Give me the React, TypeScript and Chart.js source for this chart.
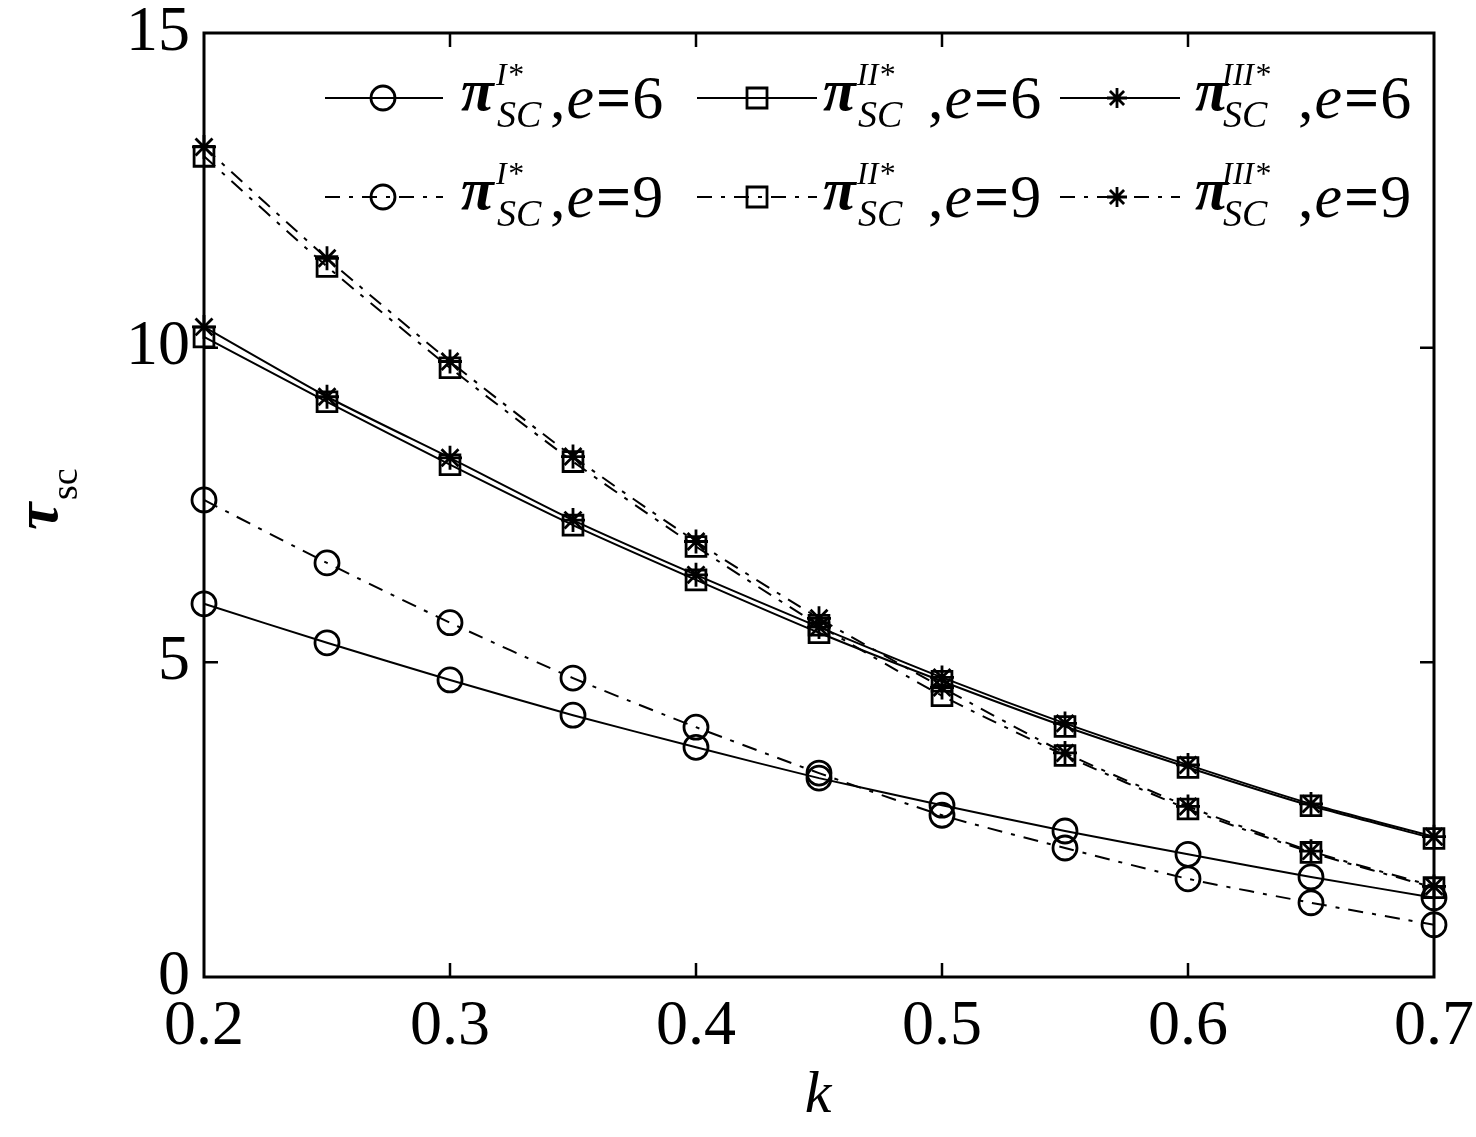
import React, { useEffect, useRef } from 'react';
import { Chart, registerables } from 'chart.js';

Chart.register(...registerables);

// ---------- data ----------
const kValues = [0.2, 0.25, 0.3, 0.35, 0.4, 0.45, 0.5, 0.55, 0.6, 0.65, 0.7];
const piI_e6 = [5.93, 5.31, 4.72, 4.16, 3.65, 3.16, 2.73, 2.32, 1.95, 1.59, 1.26];
const piII_e6 = [10.17, 9.14, 8.14, 7.18, 6.31, 5.47, 4.70, 3.98, 3.33, 2.72, 2.20];
const piIII_e6 = [10.33, 9.22, 8.25, 7.26, 6.39, 5.56, 4.76, 4.03, 3.37, 2.75, 2.23];
const piI_e9 = [7.58, 6.58, 5.63, 4.75, 3.97, 3.24, 2.57, 2.05, 1.56, 1.18, 0.83];
const piII_e9 = [13.04, 11.29, 9.68, 8.19, 6.84, 5.59, 4.47, 3.52, 2.67, 1.98, 1.42];
const piIII_e9 = [13.19, 11.42, 9.78, 8.27, 6.92, 5.70, 4.60, 3.56, 2.71, 2.00, 1.44];

const xTicks = [0.2, 0.3, 0.4, 0.5, 0.6, 0.7];
const yTicks = [0, 5, 10, 15];

const legendSup = ['I*', 'II*', 'III*'];
const legendE = ['6', '9'];
const xTitle = 'k';
const yTitleMain = 'τ';
const yTitleSub = 'sc';

// ---------- styles ----------
const SERIF = '"Liberation Serif", "DejaVu Serif", serif';
const DASHDOT = [15, 9, 4, 9];
const W = 1476;
const H = 1137;

type Style = 'circle' | 'rect' | 'star';

function makeDataset(label: string, values: number[], style: Style, dashed: boolean) {
  return {
    label,
    data: kValues.map((k, i) => ({ x: k, y: values[i] })),
    borderColor: '#000',
    borderWidth: 2,
    borderDash: dashed ? DASHDOT : [],
    pointStyle: style,
    pointRadius: style === 'rect' ? 14 : 12,
    pointHoverRadius: style === 'rect' ? 14 : 12,
    pointBorderColor: '#000',
    pointBackgroundColor: 'rgba(0,0,0,0)',
    pointBorderWidth: 2.8,
    fill: false,
    tension: 0.2,
    clip: false as any,
  };
}

function drawMarker(ctx: CanvasRenderingContext2D, style: Style, x: number, y: number) {
  ctx.save();
  ctx.setLineDash([]);
  ctx.strokeStyle = '#000';
  ctx.lineWidth = 2.8;
  ctx.beginPath();
  if (style === 'circle') {
    ctx.arc(x, y, 12, 0, Math.PI * 2);
  } else if (style === 'rect') {
    ctx.rect(x - 10, y - 10, 20, 20);
  } else {
    const r = 10;
    ctx.moveTo(x, y - r); ctx.lineTo(x, y + r);
    ctx.moveTo(x - r, y); ctx.lineTo(x + r, y);
    const d = r * Math.SQRT1_2;
    ctx.moveTo(x - d, y - d); ctx.lineTo(x + d, y + d);
    ctx.moveTo(x - d, y + d); ctx.lineTo(x + d, y - d);
  }
  ctx.stroke();
  ctx.restore();
}

const legendCols = [
  { lx0: 325, lx1: 443, mx: 383, px: 463, sx: 496, cx: 550, style: 'circle' as Style },
  { lx0: 697, lx1: 817, mx: 757, px: 825, sx: 857, cx: 928, style: 'rect' as Style },
  { lx0: 1060, lx1: 1180, mx: 1117, px: 1197, sx: 1222, cx: 1298, style: 'star' as Style },
];
const legendRows = [98, 197];

function zeroPadding(s: any) {
  s.paddingTop = 0;
  s.paddingBottom = 0;
  s.paddingLeft = 0;
  s.paddingRight = 0;
}

const framePlugin = {
  id: 'frameAndText',
  afterDraw(chart: any) {
    const ctx: CanvasRenderingContext2D = chart.ctx;
    const { left, right, top, bottom } = chart.chartArea;
    const xs = chart.scales.x;
    const ys = chart.scales.y;
    ctx.save();
    ctx.strokeStyle = '#000';
    ctx.lineWidth = 3;
    ctx.setLineDash([]);
    ctx.strokeRect(left, top, right - left, bottom - top);
    ctx.lineWidth = 2.5;
    const tl = 14;
    ctx.beginPath();
    xTicks.forEach((v) => {
      const px = xs.getPixelForValue(v);
      if (Math.abs(px - left) < 2 || Math.abs(px - right) < 2) return;
      ctx.moveTo(px, bottom); ctx.lineTo(px, bottom - tl);
      ctx.moveTo(px, top); ctx.lineTo(px, top + tl);
    });
    yTicks.forEach((v) => {
      const py = ys.getPixelForValue(v);
      if (Math.abs(py - top) < 2 || Math.abs(py - bottom) < 2) return;
      ctx.moveTo(left, py); ctx.lineTo(left + tl, py);
      ctx.moveTo(right, py); ctx.lineTo(right - tl, py);
    });
    ctx.stroke();

    // axis titles
    ctx.fillStyle = '#000';
    ctx.textAlign = 'center';
    ctx.textBaseline = 'alphabetic';
    ctx.font = `italic 60px ${SERIF}`;
    ctx.fillText(xTitle, 818, 1112);

    ctx.save();
    ctx.translate(57, 530);
    ctx.rotate(-Math.PI / 2);
    ctx.textAlign = 'left';
    ctx.font = `bold italic 62px ${SERIF}`;
    ctx.fillText(yTitleMain, 0, 0);
    ctx.font = `38px ${SERIF}`;
    ctx.fillText(yTitleSub, 30, 20);
    ctx.restore();

    // legend
    legendRows.forEach((ry, ri) => {
      legendCols.forEach((c, ci) => {
        ctx.save();
        ctx.lineWidth = 2.2;
        ctx.setLineDash(ri === 1 ? DASHDOT : []);
        ctx.beginPath();
        ctx.moveTo(c.lx0, ry);
        ctx.lineTo(c.lx1, ry);
        ctx.stroke();
        ctx.restore();
        drawMarker(ctx, c.style, c.mx, ry);

        ctx.textAlign = 'left';
        ctx.textBaseline = 'alphabetic';
        ctx.font = `bold italic 60px ${SERIF}`;
        ctx.fillText('π', c.px - 2, ry + 12);
        ctx.font = `italic 32px ${SERIF}`;
        ctx.fillText(legendSup[ci], c.sx, ry - 13);
        ctx.font = `italic 38px ${SERIF}`;
        ctx.fillText('SC', c.sx + 1, ry + 29);
        let x = c.cx;
        ctx.font = `62px ${SERIF}`;
        ctx.fillText(',', x, ry + 20);
        x += ctx.measureText(',').width + 1;
        ctx.font = `italic 62px ${SERIF}`;
        ctx.fillText('e', x, ry + 20);
        x += ctx.measureText('e').width + 2;
        ctx.font = `bold 62px ${SERIF}`;
        ctx.fillText('=', x, ry + 20);
        x += ctx.measureText('=').width + 1;
        ctx.font = `62px ${SERIF}`;
        ctx.fillText(legendE[ri], x, ry + 20);
      });
    });
    ctx.restore();
  },
};

export default function App() {
  const ref = useRef<HTMLCanvasElement>(null);
  useEffect(() => {
    document.body.style.margin = '0';
    const canvas = ref.current!;
    const chart = new Chart(canvas, {
      type: 'line',
      data: {
        datasets: [
          makeDataset('πI* e=6', piI_e6, 'circle', false),
          makeDataset('πII* e=6', piII_e6, 'rect', false),
          makeDataset('πIII* e=6', piIII_e6, 'star', false),
          makeDataset('πI* e=9', piI_e9, 'circle', true),
          makeDataset('πII* e=9', piII_e9, 'rect', true),
          makeDataset('πIII* e=9', piIII_e9, 'star', true),
        ] as any,
      },
      options: {
        animation: false,
        responsive: false,
        devicePixelRatio: 1,
        events: [],
        layout: { padding: { top: 33, right: 42, left: 0, bottom: 0 } },
        plugins: { legend: { display: false }, tooltip: { enabled: false } },
        scales: {
          x: {
            type: 'linear',
            min: 0.2,
            max: 0.7,
            afterBuildTicks: (s: any) => { s.ticks = xTicks.map((v) => ({ value: v })); },
            afterFit: (s: any) => { s.height = 160; zeroPadding(s); },
            grid: { display: false, drawTicks: false },
            border: { display: false },
            ticks: {
              color: '#000',
              font: { family: SERIF, size: 64 },
              padding: 12,
              maxRotation: 0,
              autoSkip: false,
              callback: (v: any) => Number(v).toFixed(1),
            },
          },
          y: {
            type: 'linear',
            min: 0,
            max: 15,
            afterBuildTicks: (s: any) => { s.ticks = yTicks.map((v) => ({ value: v })); },
            afterFit: (s: any) => { s.width = 204; zeroPadding(s); },
            grid: { display: false, drawTicks: false },
            border: { display: false },
            ticks: {
              color: '#000',
              font: { family: SERIF, size: 64 },
              padding: 14,
              callback: (v: any) => String(v),
            },
          },
        },
      },
      plugins: [framePlugin],
    });
    return () => chart.destroy();
  }, []);
  return (
    <div style={{ width: W, height: H, background: '#fff' }}>
      <canvas ref={ref} width={W} height={H} style={{ display: 'block' }} />
    </div>
  );
}
